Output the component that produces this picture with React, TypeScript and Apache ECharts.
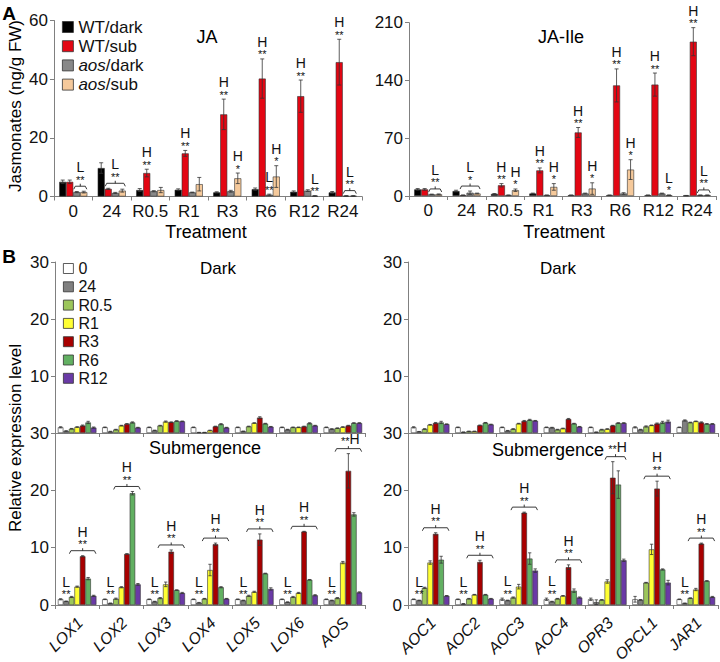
import React, { useEffect, useRef } from 'react';
import * as echarts from 'echarts';

const FONT = '"Liberation Sans", Arial, Helvetica, sans-serif';

// ---------- Panel A ----------
const jaCategories = ['0', '24', 'R0.5', 'R1', 'R3', 'R6', 'R12', 'R24'];
const jaGroups = ['WT/dark', 'WT/sub', 'aos/dark', 'aos/sub'];
const jaGroupColors = ['#000000', '#e30613', '#888888', '#f5c99b'];

// JA (ng/g FW)
const jaWTdark = [5.0, 9.7, 2.2, 2.3, 1.4, 2.5, 1.6, 1.4];
const jaWTdarkErr = [0.6, 1.8, 0.5, 0.3, 0.2, 0.4, 0.3, 0.3];
const jaWTsub = [5.0, 2.6, 8.0, 14.7, 28.0, 40.2, 34.2, 45.8];
const jaWTsubErr = [0.6, 0.2, 1.3, 1.0, 5.2, 6.7, 5.5, 7.8];
const jaAosDark = [1.5, 1.2, 1.8, 1.4, 1.8, 0.6, 2.0, 0.2];
const jaAosDarkErr = [0.2, 0.2, 0.2, 0.1, 0.3, 0.2, 0.3, 0.1];
const jaAosSub = [1.5, 2.0, 2.2, 4.2, 6.2, 6.8, 0.2, 0.2];
const jaAosSubErr = [0.3, 0.5, 0.9, 2.3, 1.8, 3.7, 0.1, 0.1];

// JA-Ile (ng/g FW)
const jaIleWTdark = [8, 6, 2.5, 3, 1, 1, 1, 0.5];
const jaIleWTdarkErr = [1, 1, 0.5, 0.5, 0.2, 0.2, 0.2, 0.2];
const jaIleWTsub = [8, 1, 13, 31, 77, 134, 135, 187];
const jaIleWTsubErr = [1, 0.3, 2, 3, 6, 20, 14, 17];
const jaIleAosDark = [2, 4, 1, 1, 3, 3, 3, 1];
const jaIleAosDarkErr = [0.3, 2, 0.3, 0.2, 0.5, 1, 0.5, 0.2];
const jaIleAosSub = [2, 3, 7, 11, 9, 32, 1, 1];
const jaIleAosSubErr = [0.5, 0.5, 1.5, 4, 7, 12, 0.3, 0.3];

// significance marks: c = category, s..e = bar range, t = letter, st = stars, br = bracket
const jaMarks = [
  { c: 0, s: 2, e: 3, t: 'L', st: '**', br: true },
  { c: 1, s: 1, e: 3, t: 'L', st: '**', br: true },
  { c: 2, s: 1, e: 1, t: 'H', st: '**' },
  { c: 3, s: 1, e: 1, t: 'H', st: '**' },
  { c: 4, s: 1, e: 1, t: 'H', st: '**' },
  { c: 4, s: 3, e: 3, t: 'H', st: '*' },
  { c: 5, s: 1, e: 1, t: 'H', st: '**' },
  { c: 5, s: 2, e: 2, t: 'L', st: '**' },
  { c: 5, s: 3, e: 3, t: 'H', st: '*' },
  { c: 6, s: 1, e: 1, t: 'H', st: '**' },
  { c: 6, s: 3, e: 3, t: 'L', st: '**' },
  { c: 7, s: 1, e: 1, t: 'H', st: '**' },
  { c: 7, s: 2, e: 3, t: 'L', st: '**', br: true },
];
const jaIleMarks = [
  { c: 0, s: 2, e: 3, t: 'L', st: '**', br: true },
  { c: 1, s: 1, e: 3, t: 'L', st: '*', br: true },
  { c: 2, s: 1, e: 1, t: 'H', st: '**' },
  { c: 2, s: 3, e: 3, t: 'H', st: '*' },
  { c: 3, s: 1, e: 1, t: 'H', st: '**' },
  { c: 3, s: 3, e: 3, t: 'H', st: '*' },
  { c: 4, s: 1, e: 1, t: 'H', st: '**' },
  { c: 4, s: 3, e: 3, t: 'H', st: '*' },
  { c: 5, s: 1, e: 1, t: 'H', st: '**' },
  { c: 5, s: 3, e: 3, t: 'H', st: '*' },
  { c: 6, s: 1, e: 1, t: 'H', st: '**' },
  { c: 6, s: 3, e: 3, t: 'L', st: '*' },
  { c: 7, s: 1, e: 1, t: 'H', st: '**' },
  { c: 7, s: 2, e: 3, t: 'L', st: '**', br: true },
];

// ---------- Panel B ----------
const timePoints = ['0', '24', 'R0.5', 'R1', 'R3', 'R6', 'R12'];
const timeColors = ['#ffffff', '#808080', '#9cc65b', '#ffff33', '#a80000', '#62b062', '#6a3aa6'];
const genesLeft = ['LOX1', 'LOX2', 'LOX3', 'LOX4', 'LOX5', 'LOX6', 'AOS'];
const genesRight = ['AOC1', 'AOC2', 'AOC3', 'AOC4', 'OPR3', 'OPCL1', 'JAR1'];

// Dark (values per gene, in time-point order)
const darkLOX1 = [1.0, 0.35, 0.75, 1.05, 1.3, 1.85, 0.95];
const darkLOX2 = [1.0, 0.25, 0.6, 1.3, 1.6, 1.85, 0.95];
const darkLOX3 = [1.0, 0.45, 1.3, 2.0, 1.9, 2.1, 2.05];
const darkLOX4 = [1.0, 0.1, 0.1, 0.45, 1.15, 1.55, 0.95];
const darkLOX5 = [1.0, 0.3, 1.15, 1.75, 2.7, 1.65, 1.1];
const darkLOX6 = [1.0, 0.6, 1.0, 1.0, 1.15, 1.7, 1.3];
const darkAOS = [1.0, 0.7, 0.85, 1.05, 1.3, 1.75, 1.75];
const darkAOC1 = [1.0, 0.25, 0.7, 1.45, 1.75, 1.85, 1.55];
const darkAOC2 = [1.0, 0.15, 0.3, 0.3, 1.35, 1.8, 1.5];
const darkAOC3 = [1.0, 0.4, 0.7, 1.65, 2.1, 2.3, 2.15];
const darkAOC4 = [1.0, 0.95, 0.6, 0.8, 2.45, 1.65, 1.1];
const darkOPR3 = [1.0, 0.15, 0.6, 0.7, 1.3, 1.75, 1.75];
const darkOPCL1 = [1.0, 0.6, 1.15, 1.35, 1.65, 1.85, 2.0];
const darkJAR1 = [1.0, 2.2, 1.85, 2.05, 1.85, 1.6, 1.6];

const darkErrLOX1 = [0.1, 0.05, 0.05, 0.05, 0.1, 0.2, 0.1];
const darkErrLOX2 = [0.05, 0.05, 0.05, 0.05, 0.05, 0.1, 0.05];
const darkErrLOX3 = [0.05, 0.05, 0.05, 0.1, 0.05, 0.05, 0.05];
const darkErrLOX4 = [0.05, 0.02, 0.02, 0.05, 0.05, 0.1, 0.05];
const darkErrLOX5 = [0.05, 0.05, 0.05, 0.05, 0.15, 0.05, 0.05];
const darkErrLOX6 = [0.05, 0.05, 0.05, 0.05, 0.05, 0.1, 0.05];
const darkErrAOS = [0.05, 0.05, 0.05, 0.05, 0.05, 0.05, 0.05];
const darkErrAOC1 = [0.1, 0.02, 0.05, 0.05, 0.1, 0.2, 0.05];
const darkErrAOC2 = [0.05, 0.02, 0.02, 0.02, 0.05, 0.05, 0.05];
const darkErrAOC3 = [0.05, 0.05, 0.05, 0.05, 0.1, 0.1, 0.05];
const darkErrAOC4 = [0.05, 0.05, 0.05, 0.05, 0.1, 0.05, 0.05];
const darkErrOPR3 = [0.05, 0.02, 0.05, 0.05, 0.05, 0.05, 0.05];
const darkErrOPCL1 = [0.1, 0.05, 0.1, 0.05, 0.1, 0.2, 0.25];
const darkErrJAR1 = [0.05, 0.1, 0.05, 0.05, 0.1, 0.05, 0.05];

// Submergence
const subLOX1 = [1.0, 0.65, 1.4, 3.2, 8.5, 4.6, 1.6];
const subLOX2 = [1.0, 0.3, 1.1, 3.1, 8.9, 19.5, 3.6];
const subLOX3 = [1.0, 0.6, 1.2, 3.6, 9.3, 2.6, 2.1];
const subLOX4 = [1.0, 0.4, 1.1, 6.1, 10.6, 3.1, 1.1];
const subLOX5 = [1.0, 0.8, 1.6, 2.3, 11.4, 5.5, 2.8];
const subLOX6 = [1.0, 0.5, 1.4, 2.1, 12.8, 4.4, 1.7];
const subAOS = [1.0, 0.8, 1.2, 7.4, 23.4, 15.8, 2.2];
const subAOC1 = [1.0, 0.8, 3.0, 7.4, 12.4, 7.9, 1.6];
const subAOC2 = [1.0, 0.2, 1.1, 1.8, 7.5, 1.8, 1.1];
const subAOC3 = [1.0, 0.8, 1.3, 3.2, 16.1, 8.1, 6.0];
const subAOC4 = [1.0, 0.6, 1.1, 1.6, 6.6, 2.5, 1.3];
const subOPR3 = [1.0, 0.5, 0.9, 4.1, 22.2, 21.0, 7.8];
const subOPCL1 = [1.0, 0.9, 3.9, 9.7, 20.3, 6.2, 3.9];
const subJAR1 = [1.0, 0.3, 1.2, 2.7, 10.7, 4.2, 1.4];

const subErrLOX1 = [0.1, 0.05, 0.1, 0.1, 0.1, 0.2, 0.1];
const subErrLOX2 = [0.05, 0.05, 0.1, 0.1, 0.05, 0.3, 0.15];
const subErrLOX3 = [0.05, 0.05, 0.1, 0.4, 0.3, 0.05, 0.1];
const subErrLOX4 = [0.05, 0.05, 0.05, 1.0, 0.2, 0.1, 0.05];
const subErrLOX5 = [0.05, 0.05, 0.1, 0.1, 1.0, 0.05, 0.2];
const subErrLOX6 = [0.05, 0.05, 0.1, 0.1, 0.05, 0.05, 0.1];
const subErrAOS = [0.05, 0.05, 0.1, 0.2, 3.0, 0.3, 0.1];
const subErrAOC1 = [0.05, 0.05, 0.1, 0.3, 0.2, 0.6, 0.05];
const subErrAOC2 = [0.05, 0.05, 0.05, 0.05, 0.3, 0.05, 0.05];
const subErrAOC3 = [0.2, 0.05, 0.1, 0.4, 0.1, 1.0, 0.3];
const subErrAOC4 = [0.2, 0.05, 0.05, 0.05, 0.4, 0.3, 0.1];
const subErrOPR3 = [0.2, 0.4, 0.05, 0.3, 2.8, 2.4, 0.2];
const subErrOPCL1 = [0.5, 0.05, 0.05, 0.9, 1.3, 0.1, 0.4];
const subErrJAR1 = [0.05, 0.05, 0.05, 0.2, 0.1, 0.05, 0.1];

const subMarksLeft = [
  { c: 0, s: 1, e: 1, tb: 0, t: 'L', st: '**' }, { c: 0, s: 2, e: 6, t: 'H', st: '**', br: true },
  { c: 1, s: 1, e: 1, tb: 0, t: 'L', st: '**' }, { c: 1, s: 2, e: 6, t: 'H', st: '**', br: true },
  { c: 2, s: 1, e: 1, tb: 0, t: 'L', st: '**' }, { c: 2, s: 2, e: 6, t: 'H', st: '**', br: true },
  { c: 3, s: 1, e: 1, tb: 0, t: 'L', st: '**' }, { c: 3, s: 2, e: 6, t: 'H', st: '**', br: true },
  { c: 4, s: 1, e: 1, tb: 0, t: 'L', st: '**' }, { c: 4, s: 2, e: 6, t: 'H', st: '**', br: true },
  { c: 5, s: 1, e: 1, tb: 0, t: 'L', st: '**' }, { c: 5, s: 2, e: 6, t: 'H', st: '**', br: true },
  { c: 6, s: 1, e: 1, tb: 0, t: 'L', st: '**' }, { c: 6, s: 2, e: 6, t: 'H', st: '**', br: true, inl: true },
];
const subMarksRight = [
  { c: 0, s: 1, e: 1, tb: 0, t: 'L', st: '**' }, { c: 0, s: 2, e: 6, t: 'H', st: '**', br: true },
  { c: 1, s: 1, e: 1, tb: 0, t: 'L', st: '**' }, { c: 1, s: 2, e: 6, t: 'H', st: '**', br: true },
  { c: 2, s: 1, e: 1, tb: 0, t: 'L', st: '**' }, { c: 2, s: 2, e: 6, t: 'H', st: '**', br: true },
  { c: 3, s: 1, e: 1, tb: 0, t: 'L', st: '**' }, { c: 3, s: 2, e: 6, t: 'H', st: '**', br: true },
  { c: 4, s: 3, e: 6, t: 'H', st: '**', br: true, inl: true },
  { c: 5, s: 2, e: 6, t: 'H', st: '**', br: true },
  { c: 6, s: 1, e: 1, tb: 0, t: 'L', st: '**' }, { c: 6, s: 2, e: 6, t: 'H', st: '**', br: true },
];

// per-gene rows -> per-time-point columns
const transpose = (rows: number[][]) => rows[0].map((_, t) => rows.map((r) => r[t]));

const AXIS_COLOR = '#808080';
const TXT = '#111111';

function catAxis(grid: number, cats: string[], showLabels = true) {
  return {
    type: 'category',
    gridIndex: grid,
    data: cats,
    boundaryGap: true,
    axisLine: { show: true, lineStyle: { color: AXIS_COLOR, width: 1 } },
    axisTick: { show: true, length: 4, inside: false, alignWithLabel: false, lineStyle: { color: AXIS_COLOR } },
    axisLabel: { show: showLabels, fontFamily: FONT, fontSize: 17, color: TXT, margin: 6, interval: 0 },
    splitLine: { show: false },
  };
}

function valAxis(grid: number, max: number, interval: number, hideZero = false) {
  return {
    type: 'value',
    gridIndex: grid,
    min: 0,
    max,
    interval,
    axisLine: { show: true, lineStyle: { color: AXIS_COLOR, width: 1 } },
    axisTick: { show: true, length: 4, lineStyle: { color: AXIS_COLOR } },
    axisLabel: {
      fontFamily: FONT,
      fontSize: 17,
      color: TXT,
      margin: 6,
      formatter: (v: number) => (hideZero && v === 0 ? '' : String(v)),
    },
    splitLine: { show: false },
  };
}

function barSeries(grid: number, names: string[], colors: string[], cols: number[][], gap: string) {
  return cols.map((d, i) => ({
    type: 'bar',
    name: names[i],
    xAxisIndex: grid,
    yAxisIndex: grid,
    data: d,
    barGap: '0%',
    barCategoryGap: gap,
    itemStyle: { color: colors[i], borderColor: '#333', borderWidth: 0.6 },
    emphasis: { disabled: true },
  }));
}

function errSeries(grid: number, cols: number[][], errs: number[][], gapRatio: number) {
  const n = cols.length;
  const data: number[][] = [];
  cols.forEach((arr, b) => arr.forEach((v, c) => data.push([c, b, v, errs[b][c]])));
  return {
    type: 'custom',
    xAxisIndex: grid,
    yAxisIndex: grid,
    z: 5,
    silent: true,
    clip: false,
    color: '#333333',
    itemStyle: { color: '#333333' },
    encode: { x: 0, y: 2 },
    data,
    renderItem: (params: any, api: any) => {
      const c = api.value(0);
      const b = api.value(1);
      const v = api.value(2);
      const e = api.value(3);
      if (!(e > 0)) return { type: 'group', children: [] };
      const band = api.size([1, 0])[0];
      const groupW = band * (1 - gapRatio);
      const bw = groupW / n;
      const cx = api.coord([c, 0])[0] - groupW / 2 + (b + 0.5) * bw;
      const yHi = api.coord([c, v + e])[1];
      const yLo = api.coord([c, Math.max(v - e, 0)])[1];
      const cap = Math.max(1.2, Math.min(bw * 0.3, 2));
      const st = { stroke: '#333', lineWidth: 0.8 };
      return {
        type: 'group',
        children: [
          { type: 'line', shape: { x1: cx, y1: yLo, x2: cx, y2: yHi }, style: st },
          { type: 'line', shape: { x1: cx - cap, y1: yHi, x2: cx + cap, y2: yHi }, style: st },
          { type: 'line', shape: { x1: cx - cap, y1: yLo, x2: cx + cap, y2: yLo }, style: st },
        ],
      };
    },
  };
}

function markSeries(grid: number, cols: number[][], errs: number[][], marks: any[], gapRatio: number) {
  const n = cols.length;
  return {
    type: 'custom',
    xAxisIndex: grid,
    yAxisIndex: grid,
    z: 6,
    silent: true,
    clip: false,
    color: TXT,
    itemStyle: { color: TXT },
    encode: { x: 0, y: 1 },
    data: marks.map((m) => [m.c, 0]),
    renderItem: (params: any, api: any) => {
      const m = marks[params.dataIndex];
      const band = api.size([1, 0])[0];
      const groupW = band * (1 - gapRatio);
      const bw = groupW / n;
      const left = api.coord([m.c, 0])[0] - groupW / 2;
      let top = 0;
      const from = m.tb !== undefined ? m.tb : m.s;
      for (let b = from; b <= m.e; b++) top = Math.max(top, cols[b][m.c] + errs[b][m.c]);
      const yTop = api.coord([m.c, top])[1];
      const children: any[] = [];
      let cx = left + ((m.s + m.e + 1) / 2) * bw;
      let base = yTop;
      const ls = { stroke: '#222', lineWidth: 0.9, fill: 'none' };
      if (m.br) {
        const x1 = left + m.s * bw + 0.5;
        const x2 = left + (m.e + 1) * bw - 0.5;
        const yb = yTop - 5;
        cx = (x1 + x2) / 2;
        children.push({
          type: 'polyline',
          shape: { points: [[x1, yb + 3], [x1 + 1.5, yb], [x2 - 1.5, yb], [x2, yb + 3]] },
          style: ls,
        });
        children.push({ type: 'line', shape: { x1: cx, y1: yb, x2: cx, y2: yb - 2.5 }, style: ls });
        base = yb - 2;
      }
      if (m.inl) {
        children.push({
          type: 'text',
          x: cx + 2,
          y: base - 8,
          style: {
            text: '{s|' + m.st + '}{h|' + m.t + '}',
            align: 'center',
            verticalAlign: 'middle',
            fontFamily: FONT,
            fill: TXT,
            rich: {
              s: { fontSize: 11, fontFamily: FONT, fill: TXT, padding: [5, 0, 0, 0] },
              h: { fontSize: 14, fontFamily: FONT, fill: TXT },
            },
          },
        });
      } else {
        children.push({
          type: 'text',
          x: cx,
          y: base - 4.5,
          style: {
            text: m.st,
            align: 'center',
            verticalAlign: 'middle',
            fontFamily: FONT,
            fontSize: 11,
            fill: TXT,
          },
        });
        children.push({
          type: 'text',
          x: cx,
          y: base - 17,
          style: {
            text: m.t,
            align: 'center',
            verticalAlign: 'middle',
            fontFamily: FONT,
            fontSize: 14,
            fill: TXT,
          },
        });
      }
      return { type: 'group', children };
    },
  };
}

// rotated, italic gene names positioned through the category axis
function geneLabelSeries(grid: number, genes: string[]) {
  return {
    type: 'custom',
    xAxisIndex: grid,
    yAxisIndex: grid,
    z: 6,
    silent: true,
    clip: false,
    color: TXT,
    itemStyle: { color: TXT },
    encode: { x: 0, y: 1 },
    data: genes.map((g, i) => [i, 0]),
    renderItem: (params: any, api: any) => {
      const p = api.coord([api.value(0), 0]);
      return {
        type: 'text',
        x: p[0] + 3,
        y: p[1] + 15,
        rotation: Math.PI / 4,
        style: {
          text: genes[params.dataIndex],
          align: 'right',
          verticalAlign: 'middle',
          fontFamily: FONT,
          fontSize: 16,
          fontStyle: 'italic',
          fill: TXT,
        },
      };
    },
  };
}

function txt(text: string, x: number, y: number, fontSize: number, extra: any = {}) {
  return {
    type: 'text',
    x,
    y,
    rotation: extra.rotation || 0,
    silent: true,
    style: {
      text,
      fontFamily: FONT,
      fontSize,
      fontWeight: extra.bold ? 'bold' : 'normal',
      fill: '#000',
      align: 'center',
      verticalAlign: 'middle',
    },
  };
}

export default function App() {
  const ref = useRef<HTMLDivElement>(null);

  useEffect(() => {
    if (!ref.current) return;
    const chart = echarts.init(ref.current, undefined, { renderer: 'svg' });

    const jaCols = [jaWTdark, jaWTsub, jaAosDark, jaAosSub];
    const jaErrs = [jaWTdarkErr, jaWTsubErr, jaAosDarkErr, jaAosSubErr];
    const jaIleCols = [jaIleWTdark, jaIleWTsub, jaIleAosDark, jaIleAosSub];
    const jaIleErrs = [jaIleWTdarkErr, jaIleWTsubErr, jaIleAosDarkErr, jaIleAosSubErr];

    const darkLeftCols = transpose([darkLOX1, darkLOX2, darkLOX3, darkLOX4, darkLOX5, darkLOX6, darkAOS]);
    const darkLeftErrs = transpose([darkErrLOX1, darkErrLOX2, darkErrLOX3, darkErrLOX4, darkErrLOX5, darkErrLOX6, darkErrAOS]);
    const darkRightCols = transpose([darkAOC1, darkAOC2, darkAOC3, darkAOC4, darkOPR3, darkOPCL1, darkJAR1]);
    const darkRightErrs = transpose([darkErrAOC1, darkErrAOC2, darkErrAOC3, darkErrAOC4, darkErrOPR3, darkErrOPCL1, darkErrJAR1]);
    const subLeftCols = transpose([subLOX1, subLOX2, subLOX3, subLOX4, subLOX5, subLOX6, subAOS]);
    const subLeftErrs = transpose([subErrLOX1, subErrLOX2, subErrLOX3, subErrLOX4, subErrLOX5, subErrLOX6, subErrAOS]);
    const subRightCols = transpose([subAOC1, subAOC2, subAOC3, subAOC4, subOPR3, subOPCL1, subJAR1]);
    const subRightErrs = transpose([subErrAOC1, subErrAOC2, subErrAOC3, subErrAOC4, subErrOPR3, subErrOPCL1, subErrJAR1]);

    const GAP_A = 0.27;
    const GAP_B = 0.13;

    const option: any = {
      animation: false,
      backgroundColor: '#ffffff',
      textStyle: { fontFamily: FONT },
      grid: [
        { left: 54, top: 20.5, width: 308, height: 176, containLabel: false },
        { left: 409, top: 22.7, width: 307, height: 173.3, containLabel: false },
        { left: 55, top: 262, width: 310, height: 171, containLabel: false },
        { left: 55, top: 433, width: 310, height: 172, containLabel: false },
        { left: 408, top: 262, width: 310, height: 171, containLabel: false },
        { left: 408, top: 433, width: 310, height: 172, containLabel: false },
      ],
      xAxis: [
        catAxis(0, jaCategories),
        catAxis(1, jaCategories),
        catAxis(2, genesLeft, false),
        catAxis(3, genesLeft, false),
        catAxis(4, genesRight, false),
        catAxis(5, genesRight, false),
      ],
      yAxis: [
        valAxis(0, 60, 20),
        valAxis(1, 210, 70),
        valAxis(2, 30, 10, true),
        valAxis(3, 30, 10),
        valAxis(4, 30, 10, true),
        valAxis(5, 30, 10),
      ],
      legend: [
        {
          data: jaGroups,
          orient: 'vertical',
          left: 57,
          top: 13.5,
          itemWidth: 11,
          itemHeight: 11,
          itemGap: 2.2,
          icon: 'rect',
          selectedMode: false,
          itemStyle: { borderColor: '#333', borderWidth: 0.8 },
          formatter: (name: string) => (name.indexOf('aos') === 0 ? '{i|aos}' + name.slice(3) : name),
          textStyle: {
            fontFamily: FONT,
            fontSize: 17,
            color: TXT,
            rich: { i: { fontStyle: 'italic', fontFamily: FONT, fontSize: 17, color: TXT } },
          },
        },
        {
          data: timePoints,
          orient: 'vertical',
          left: 58,
          top: 255.5,
          itemWidth: 10,
          itemHeight: 10,
          itemGap: 2.3,
          icon: 'rect',
          selectedMode: false,
          itemStyle: { borderColor: '#333', borderWidth: 0.8 },
          textStyle: { fontFamily: FONT, fontSize: 16, color: TXT },
        },
      ],
      series: [
        ...barSeries(0, jaGroups, jaGroupColors, jaCols, GAP_A * 100 + '%'),
        errSeries(0, jaCols, jaErrs, GAP_A),
        markSeries(0, jaCols, jaErrs, jaMarks, GAP_A),
        ...barSeries(1, jaGroups, jaGroupColors, jaIleCols, GAP_A * 100 + '%'),
        errSeries(1, jaIleCols, jaIleErrs, GAP_A),
        markSeries(1, jaIleCols, jaIleErrs, jaIleMarks, GAP_A),
        ...barSeries(2, timePoints, timeColors, darkLeftCols, GAP_B * 100 + '%'),
        errSeries(2, darkLeftCols, darkLeftErrs, GAP_B),
        ...barSeries(3, timePoints, timeColors, subLeftCols, GAP_B * 100 + '%'),
        errSeries(3, subLeftCols, subLeftErrs, GAP_B),
        markSeries(3, subLeftCols, subLeftErrs, subMarksLeft, GAP_B),
        geneLabelSeries(3, genesLeft),
        ...barSeries(4, timePoints, timeColors, darkRightCols, GAP_B * 100 + '%'),
        errSeries(4, darkRightCols, darkRightErrs, GAP_B),
        ...barSeries(5, timePoints, timeColors, subRightCols, GAP_B * 100 + '%'),
        errSeries(5, subRightCols, subRightErrs, GAP_B),
        markSeries(5, subRightCols, subRightErrs, subMarksRight, GAP_B),
        geneLabelSeries(5, genesRight),
      ],
      graphic: [
        txt('A', 9, 13, 19, { bold: true }),
        txt('B', 9, 256, 19, { bold: true }),
        txt('JA', 207, 37, 18),
        txt('JA-Ile', 561, 37, 18),
        txt('Treatment', 206, 232, 18),
        txt('Treatment', 564, 232, 18),
        txt('Dark', 218, 268, 17),
        txt('Dark', 558, 268, 17),
        txt('Submergence', 205, 448, 18),
        txt('Submergence', 548, 450, 18),
        txt('Jasmonates (ng/g FW)', 15, 106, 17, { rotation: Math.PI / 2 }),
        txt('Relative expression level', 15, 438, 17, { rotation: Math.PI / 2 }),
      ],
    };

    chart.setOption(option);
    return () => chart.dispose();
  }, []);

  return <div ref={ref} style={{ position: 'fixed', left: 0, top: 0, width: 720, height: 662 }} />;
}
